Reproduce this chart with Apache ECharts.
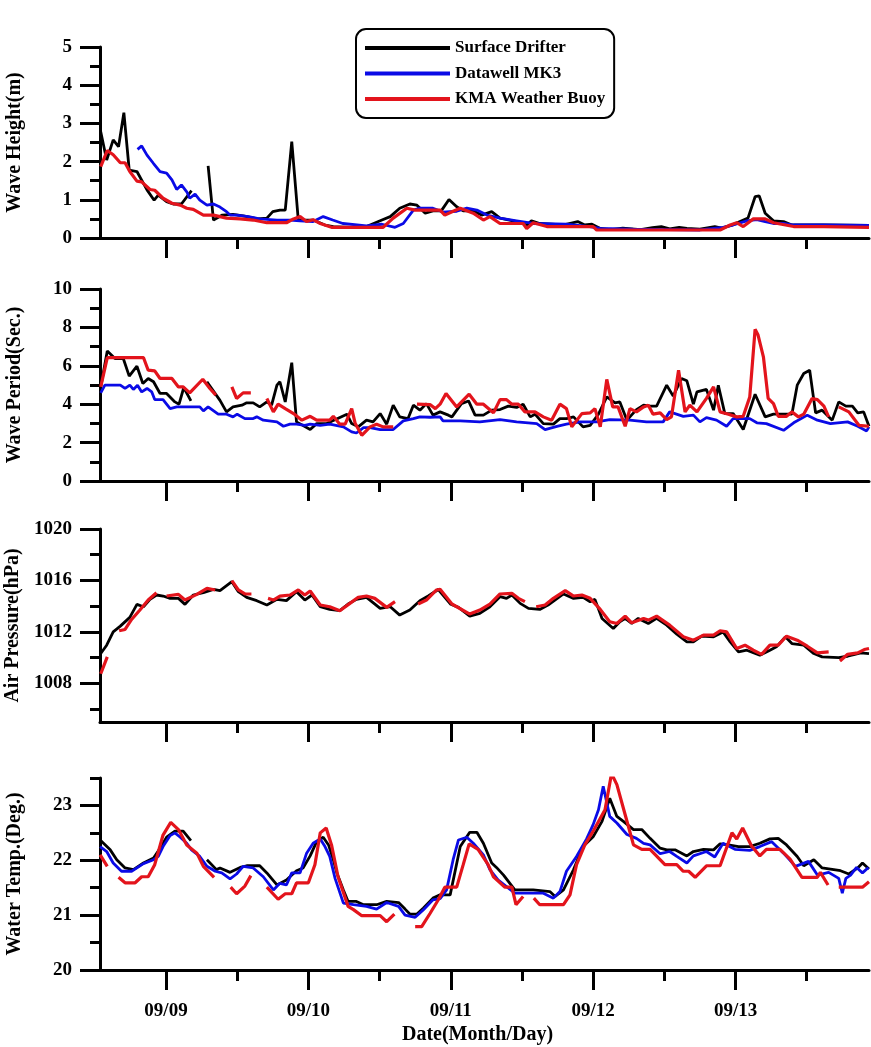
<!DOCTYPE html>
<html><head><meta charset="utf-8">
<script src="https://cdn.jsdelivr.net/npm/echarts@6/dist/echarts.min.js"></script>
<style>html,body{margin:0;padding:0;background:#fff}#c{width:871px;height:1047px}</style>
</head><body><div id="c"></div><script>
// x values: hours since 2000-09-08 00:00
const hsDrifter = [[13.0,2.78],[14.0,2.04],[15.1,2.57],[16.0,2.39],[16.9,3.28],[17.8,1.78],[19.1,1.74],[20.8,1.26],[22.0,0.99],[22.7,1.12],[24.1,0.95],[25.2,0.89],[26.6,0.89],[28.3,1.24],[29.5,null],[31.1,1.89],[32.0,0.47],[33.5,0.6],[35.3,0.62],[37.0,0.58],[39.5,0.5],[41.0,0.52],[42.0,0.69],[43.2,0.73],[44.1,0.73],[45.2,2.52],[46.3,0.47],[48.8,0.47],[50.8,0.34],[52.2,0.3],[55.0,0.28],[57.8,0.3],[60.4,0.47],[61.8,0.56],[63.4,0.78],[65.1,0.89],[66.3,0.86],[67.7,0.65],[69.0,0.71],[70.4,0.71],[71.7,1.01],[73.0,0.82],[74.1,0.71],[75.8,0.71],[77.2,0.6],[78.9,0.69],[80.3,0.52],[83.1,0.43],[84.8,0.34],[85.6,0.45],[87.0,0.38],[90.9,0.34],[93.4,0.43],[94.6,0.34],[95.8,0.36],[97.2,0.25],[99.0,0.22],[101.0,0.26],[104.0,0.22],[106.0,0.27],[107.5,0.3],[108.9,0.24],[110.5,0.28],[111.8,0.25],[114.0,0.23],[116.5,0.3],[117.7,0.26],[119.6,0.35],[122.1,0.52],[123.3,1.08],[124.0,1.1],[125.0,0.65],[126.4,0.45],[128.1,0.43],[129.5,0.34],[134.8,0.34],[142.5,0.33]];
const hsMK3 = [[19.2,2.32],[19.9,2.41],[20.8,2.17],[21.9,1.95],[23.0,1.74],[24.1,1.7],[25.0,1.52],[25.8,1.27],[26.6,1.39],[27.5,1.21],[28.0,1.04],[28.9,1.15],[29.7,0.99],[30.9,0.86],[32.0,0.89],[33.1,0.81],[34.2,0.69],[34.8,0.6],[35.9,0.6],[37.9,0.56],[39.8,0.5],[42.7,0.47],[44.9,0.47],[46.6,0.45],[48.8,0.43],[50.5,0.56],[52.1,0.47],[53.8,0.38],[57.8,0.32],[60.4,0.36],[62.6,0.28],[64.0,0.38],[65.7,0.73],[66.8,0.78],[69.0,0.78],[70.7,0.68],[73.0,0.7],[74.7,0.78],[76.4,0.73],[78.1,0.6],[80.3,0.52],[83.1,0.45],[85.9,0.38],[91.5,0.36],[95.4,0.3],[97.2,0.25],[102.7,0.23],[108.4,0.22],[114.0,0.21],[117.9,0.28],[119.6,0.34],[121.9,0.45],[123.6,0.48],[125.0,0.43],[126.4,0.38],[128.1,0.38],[129.8,0.34],[134.9,0.34],[142.5,0.33]];
const hsKMA = [[13.0,1.87],[14.1,2.29],[15.1,2.18],[16.3,1.97],[17.1,1.97],[17.9,1.74],[19.1,1.49],[19.9,1.47],[21.3,1.27],[22.1,1.25],[23.5,1.04],[25.0,0.91],[26.4,0.86],[27.5,0.78],[28.6,0.75],[30.3,0.6],[32.0,0.6],[34.2,0.52],[36.5,0.5],[38.7,0.47],[41.0,0.4],[44.3,0.4],[45.5,0.5],[46.6,0.56],[47.7,0.43],[48.8,0.48],[50.0,0.38],[51.9,0.28],[60.6,0.28],[62.3,0.52],[64.6,0.78],[66.0,0.73],[70.2,0.73],[71.0,0.6],[72.4,0.7],[73.6,0.78],[75.8,0.65],[77.5,0.47],[78.6,0.56],[80.3,0.38],[84.2,0.38],[84.8,0.25],[85.9,0.4],[88.2,0.3],[96.0,0.3],[96.6,0.21],[117.4,0.21],[119.1,0.34],[120.2,0.4],[121.3,0.3],[123.0,0.5],[125.0,0.5],[126.4,0.4],[129.8,0.3],[134.9,0.3],[142.5,0.28]];

const tpDrifter = [[13.0,4.9],[14.1,6.77],[15.4,6.38],[16.8,6.38],[17.8,5.46],[19.1,5.98],[20.1,5.08],[21.0,5.34],[21.9,5.17],[23.0,4.56],[24.1,4.56],[25.5,4.12],[26.2,4.0],[27.0,4.87],[28.2,4.17],[29.5,null],[30.9,5.17],[33.1,4.2],[34.2,3.6],[35.3,3.86],[36.8,3.95],[37.6,4.07],[38.7,4.07],[39.8,3.86],[41.0,4.12],[41.8,3.95],[42.7,4.99],[43.2,5.17],[44.1,4.12],[45.2,6.16],[46.0,3.08],[48.3,2.68],[49.4,2.99],[51.1,2.99],[54.5,3.48],[55.3,2.99],[56.4,2.82],[57.8,3.17],[58.9,3.08],[60.1,3.51],[61.2,2.96],[62.3,3.95],[63.4,3.34],[64.8,3.25],[65.7,3.95],[66.8,3.69],[67.9,4.03],[69.0,3.43],[70.2,3.6],[71.6,3.43],[72.2,3.34],[73.8,4.03],[75.0,4.17],[76.1,3.43],[77.5,3.43],[78.9,3.69],[80.3,3.72],[81.7,3.9],[83.1,3.83],[84.2,4.0],[85.4,3.34],[86.2,3.48],[87.6,2.99],[89.3,2.96],[90.4,3.25],[91.5,3.25],[92.7,3.34],[94.3,2.82],[95.5,2.9],[96.9,3.48],[98.3,4.38],[99.7,4.07],[100.5,4.12],[101.7,3.17],[103.3,3.72],[104.5,3.95],[105.6,3.9],[106.7,3.9],[108.4,4.99],[109.5,4.42],[110.9,5.34],[111.8,5.22],[112.9,4.0],[113.5,4.64],[115.1,4.77],[116.3,3.69],[117.1,4.99],[118.2,3.51],[119.6,3.51],[121.3,2.68],[123.3,4.52],[125.0,3.34],[126.4,3.48],[129.5,3.48],[130.4,4.99],[131.5,5.6],[132.5,5.77],[133.5,3.55],[134.6,3.69],[136.3,3.17],[137.4,4.12],[138.6,3.9],[139.7,3.9],[140.6,3.55],[141.6,3.6],[142.5,2.85]];
const tpMK3 = [[13.0,4.59],[13.7,4.99],[16.3,4.99],[17.1,4.82],[17.9,4.99],[18.5,4.77],[19.2,4.99],[19.9,4.64],[20.8,4.82],[21.6,4.64],[22.1,4.24],[23.5,4.24],[24.7,3.77],[25.8,3.86],[26.6,3.86],[29.7,3.86],[30.3,3.65],[31.1,3.86],[32.8,3.48],[34.2,3.48],[35.3,3.34],[36.0,3.48],[37.3,3.25],[38.7,3.25],[39.3,3.34],[40.4,3.17],[42.7,3.08],[43.8,2.85],[44.9,2.96],[46.0,2.96],[47.4,2.9],[48.3,2.96],[50.0,2.9],[51.6,2.96],[53.9,2.82],[55.3,2.56],[56.1,2.5],[57.3,2.78],[58.4,2.78],[60.1,2.68],[62.3,2.68],[64.0,3.13],[65.7,3.25],[66.8,3.34],[68.5,3.32],[70.2,3.34],[70.7,3.13],[73.6,3.13],[76.9,3.08],[80.3,3.2],[83.1,3.08],[86.5,2.99],[87.9,2.68],[89.9,2.85],[91.5,2.96],[93.8,3.08],[96.6,3.08],[98.8,3.2],[102.2,3.17],[105.0,3.08],[107.8,3.08],[108.9,3.6],[111.2,3.37],[112.9,3.43],[114.0,3.08],[115.1,3.3],[116.8,3.17],[118.5,2.85],[119.6,3.25],[122.4,3.25],[123.6,3.03],[125.2,2.99],[128.1,2.64],[129.8,3.03],[132.1,3.43],[133.8,3.17],[136.0,2.99],[138.9,3.08],[140.6,2.85],[142.1,2.61],[142.5,2.82]];
const tpKMA = [[13.0,4.9],[14.1,6.43],[20.2,6.43],[21.0,5.77],[22.1,5.74],[23.0,5.34],[25.0,5.34],[26.1,4.9],[26.9,4.9],[28.0,4.59],[30.2,5.3],[31.4,4.82],[32.4,4.47],[33.5,null],[35.1,4.9],[35.9,4.3],[37.0,4.59],[38.3,4.59],[40.0,null],[41.0,4.3],[42.1,3.6],[42.9,4.0],[44.1,3.77],[45.5,3.51],[46.9,3.17],[48.3,3.37],[49.4,3.17],[51.6,3.17],[52.2,3.37],[53.3,2.96],[54.2,2.96],[55.3,3.77],[55.9,2.99],[57.0,2.38],[58.4,2.82],[59.5,2.96],[60.6,2.82],[62.3,2.82],[64.0,null],[66.3,4.0],[68.5,3.98],[69.4,3.77],[70.2,4.0],[71.2,4.56],[73.0,3.86],[75.1,4.52],[76.4,4.0],[77.5,4.0],[79.2,3.55],[80.3,4.24],[81.4,4.24],[82.3,4.0],[83.4,4.0],[84.5,3.6],[86.2,3.6],[87.6,3.34],[89.0,3.17],[90.4,4.0],[91.5,3.77],[92.4,2.82],[94.1,3.51],[95.5,3.55],[96.3,3.77],[97.2,2.82],[98.3,5.29],[99.3,3.86],[100.2,3.86],[101.4,2.85],[102.2,3.77],[103.3,3.6],[104.5,3.86],[105.3,3.95],[106.1,3.48],[107.3,3.55],[108.4,3.2],[109.2,3.34],[110.4,5.77],[111.5,3.6],[112.3,3.95],[113.5,3.6],[115.1,4.3],[116.3,4.9],[117.4,3.6],[118.8,3.48],[120.2,3.34],[121.3,3.37],[122.4,4.38],[123.3,7.9],[123.8,7.6],[124.7,6.47],[125.5,4.3],[126.4,4.03],[127.2,3.37],[128.6,3.37],[129.5,3.6],[130.6,3.34],[131.5,3.48],[132.9,4.3],[133.8,4.24],[134.9,3.9],[135.7,3.34],[136.5,null],[137.4,3.86],[139.1,3.6],[140.8,2.9],[142.5,2.85]];

const apDrifter = [[13.0,1010.32],[14.0,1010.97],[15.1,1012.0],[16.3,1012.45],[17.9,1013.13],[19.1,1014.14],[20.2,1013.96],[21.3,1014.53],[22.4,1014.87],[23.5,1014.79],[24.7,1014.61],[26.1,1014.61],[27.2,1014.14],[28.6,1014.87],[30.3,1015.05],[32.0,1015.31],[33.1,1015.21],[35.1,1015.91],[36.2,1015.13],[37.6,1014.69],[39.3,1014.43],[41.0,1014.09],[42.7,1014.53],[44.3,1014.43],[46.0,1015.13],[47.4,1014.48],[48.6,1014.87],[50.0,1013.96],[51.6,1013.75],[53.3,1013.65],[54.7,1014.17],[56.1,1014.53],[57.8,1014.69],[60.1,1013.83],[61.8,1013.96],[63.4,1013.31],[65.1,1013.7],[66.8,1014.43],[68.2,1014.79],[69.9,1015.3],[72.0,1014.15],[73.3,1013.91],[75.2,1013.23],[76.9,1013.44],[78.6,1013.96],[80.3,1014.74],[81.4,1014.61],[82.3,1014.87],[83.7,1014.22],[85.1,1013.83],[87.0,1013.75],[88.4,1014.09],[91.0,1014.95],[92.7,1014.61],[94.3,1014.69],[95.5,1014.35],[96.3,1014.53],[97.5,1013.05],[99.4,1012.27],[100.5,1012.79],[101.4,1013.05],[102.5,1012.66],[103.6,1013.05],[105.3,1012.66],[106.7,1013.05],[108.4,1012.53],[110.1,1011.83],[111.8,1011.23],[112.9,1011.23],[114.3,1011.67],[116.3,1011.62],[117.9,1012.0],[119.1,1011.23],[120.5,1010.45],[121.9,1010.58],[124.1,1010.19],[125.8,1010.58],[126.9,1010.84],[128.4,1011.62],[129.5,1011.1],[131.5,1010.97],[133.2,1010.32],[134.6,1010.06],[137.4,1010.0],[138.9,1010.11],[141.1,1010.37],[142.5,1010.32]];
const apKMA = [[13.0,1008.75],[14.1,1010.06],[15.0,null],[16.1,1012.09],[17.1,1012.19],[18.2,1012.97],[19.6,1013.7],[21.0,1014.48],[22.4,1015.05],[23.2,null],[24.1,1014.79],[26.1,1014.92],[27.2,1014.48],[29.2,1014.92],[30.9,1015.39],[32.3,1015.26],[33.5,null],[35.1,1015.99],[36.2,1015.26],[37.3,1014.95],[38.4,1014.95],[40.0,null],[41.2,1014.61],[42.1,1014.48],[43.2,1014.79],[44.9,1014.87],[46.3,1015.26],[47.4,1014.87],[48.3,1015.18],[50.0,1014.09],[51.6,1013.96],[53.3,1013.65],[55.0,1014.22],[56.4,1014.69],[57.8,1014.79],[59.2,1014.61],[61.2,1013.91],[62.6,1014.35],[64.5,null],[66.5,1014.17],[67.9,1014.48],[69.6,1015.26],[70.2,1015.31],[72.2,1014.17],[75.2,1013.39],[76.9,1013.7],[78.6,1014.17],[80.3,1014.95],[82.3,1015.0],[83.4,1014.61],[84.5,1014.35],[85.3,null],[86.4,1013.96],[87.9,1014.09],[89.3,1014.61],[91.3,1015.21],[92.7,1014.79],[94.1,1014.87],[95.5,1014.61],[97.2,1013.75],[98.8,1012.79],[100.0,1012.66],[101.4,1013.23],[102.5,1012.71],[104.5,1013.05],[105.3,1012.92],[106.7,1013.23],[108.9,1012.53],[111.2,1011.62],[112.9,1011.36],[114.6,1011.75],[116.3,1011.75],[117.4,1012.09],[118.5,1012.0],[120.2,1010.71],[121.6,1010.97],[123.0,1010.58],[124.4,1010.26],[125.8,1010.97],[127.2,1010.97],[128.6,1011.67],[130.4,1011.36],[132.1,1010.89],[133.8,1010.37],[135.7,1010.45],[136.6,null],[137.6,1009.74],[138.9,1010.26],[140.6,1010.37],[141.7,1010.63],[142.5,1010.71]];

const wtDrifter = [[12.9,22.37],[14.6,22.19],[15.7,22.01],[17.1,21.86],[18.5,21.83],[20.2,21.95],[21.9,22.04],[23.0,22.22],[24.1,22.42],[25.5,22.53],[26.9,22.53],[28.2,22.36],[29.5,null],[30.9,22.01],[32.5,21.83],[33.1,21.86],[34.8,21.78],[36.5,21.87],[37.6,21.9],[39.8,21.9],[41.0,21.77],[42.7,21.55],[44.3,21.64],[46.0,21.81],[47.1,21.86],[48.3,22.08],[49.4,22.34],[50.5,22.42],[51.4,22.28],[52.2,22.01],[52.8,21.77],[53.9,21.46],[54.7,21.25],[56.1,21.25],[57.3,21.19],[59.5,21.19],[61.2,21.25],[63.2,21.23],[64.3,21.11],[65.1,21.02],[66.3,21.02],[67.4,21.13],[69.0,21.31],[70.2,21.37],[71.9,21.37],[73.6,22.25],[75.2,22.51],[76.4,22.51],[77.5,22.31],[78.9,21.95],[79.7,21.87],[80.9,21.73],[82.8,21.46],[84.0,21.46],[85.9,21.46],[88.7,21.43],[89.6,21.34],[91.0,21.46],[92.7,21.83],[94.3,22.25],[96.0,22.43],[97.5,22.71],[98.8,23.13],[100.0,22.8],[101.1,22.71],[102.8,22.56],[104.2,22.56],[105.6,22.4],[107.3,22.22],[108.4,22.19],[109.8,22.19],[111.8,22.08],[112.9,22.16],[114.6,22.2],[116.3,22.19],[117.4,22.3],[118.8,22.28],[120.5,22.25],[122.4,22.25],[124.1,22.31],[125.8,22.39],[127.2,22.4],[128.6,22.28],[130.4,22.07],[131.5,21.9],[133.2,22.01],[134.6,21.86],[136.0,21.84],[137.7,21.81],[139.1,21.75],[140.6,21.86],[141.4,21.95],[142.5,21.84]];
const wtMK3 = [[12.9,22.25],[14.0,22.16],[15.1,21.95],[16.5,21.8],[18.2,21.8],[20.2,21.94],[21.9,22.01],[22.7,22.07],[23.5,22.25],[24.7,22.45],[25.5,22.5],[26.4,22.42],[27.5,22.31],[28.3,22.19],[29.7,22.07],[30.9,21.89],[32.3,21.8],[33.4,21.77],[34.8,21.66],[35.9,21.75],[37.0,21.89],[38.7,21.86],[40.4,21.7],[42.1,21.46],[43.2,21.58],[44.3,21.55],[45.2,21.77],[46.6,21.77],[47.7,22.13],[48.8,22.31],[50.0,22.39],[50.8,22.25],[51.6,22.07],[52.5,21.67],[53.9,21.22],[55.6,21.19],[57.8,21.16],[59.5,21.11],[61.2,21.23],[63.2,21.16],[64.3,21.0],[66.0,20.96],[67.4,21.1],[69.0,21.28],[70.2,21.3],[71.3,21.46],[72.4,22.01],[73.3,22.37],[74.7,22.42],[75.8,22.31],[77.5,22.1],[78.6,21.83],[80.0,21.64],[81.4,21.52],[82.8,21.4],[84.8,21.4],[87.6,21.4],[89.3,21.31],[90.4,21.43],[91.5,21.8],[93.2,22.07],[94.9,22.39],[96.0,22.65],[96.9,22.92],[97.7,23.35],[98.8,22.8],[100.0,22.68],[101.7,22.47],[103.3,22.4],[104.5,22.31],[105.6,22.28],[107.3,22.12],[108.9,22.16],[110.1,22.07],[111.8,21.95],[112.9,22.08],[115.1,22.16],[116.5,22.06],[117.9,22.31],[119.9,22.2],[122.4,22.18],[124.1,22.25],[126.1,22.34],[128.1,22.13],[130.1,21.89],[132.3,21.98],[133.8,21.73],[135.7,21.78],[137.4,21.67],[138.0,21.4],[138.6,21.67],[139.4,21.73],[140.4,21.87],[141.4,21.77],[142.4,21.87]];
const wtKMA = [[12.9,22.1],[14.1,21.89],[15.0,null],[16.0,21.69],[17.1,21.59],[18.8,21.59],[19.9,21.7],[21.0,21.7],[22.1,21.92],[23.5,22.46],[24.8,22.69],[26.1,22.56],[27.5,22.28],[29.2,22.13],[30.3,21.89],[32.1,21.69],[33.5,null],[34.9,21.51],[35.9,21.39],[37.3,21.53],[38.3,21.72],[40.0,null],[41.0,21.51],[42.9,21.29],[44.1,21.39],[45.2,21.39],[46.0,21.59],[48.0,21.59],[49.1,21.92],[50.0,22.5],[51.0,22.59],[51.9,22.28],[53.0,21.7],[54.7,21.16],[55.6,21.1],[57.0,20.99],[60.1,20.99],[61.2,20.88],[62.5,21.02],[64.0,null],[66.0,20.79],[67.1,20.79],[68.5,21.03],[69.9,21.28],[71.0,21.51],[73.0,21.51],[74.1,21.92],[75.1,22.3],[76.6,22.2],[78.3,21.92],[79.2,21.7],[81.1,21.51],[82.3,21.51],[83.0,21.19],[84.2,21.34],[85.0,null],[86.0,21.31],[87.0,21.19],[91.0,21.19],[92.1,21.37],[93.2,21.92],[94.6,22.28],[96.0,22.53],[98.0,22.92],[99.1,23.58],[100.0,23.38],[101.4,22.83],[102.8,22.28],[104.2,22.2],[105.6,22.2],[108.1,21.92],[110.1,21.92],[111.2,21.8],[112.1,21.8],[113.2,21.69],[115.1,21.9],[117.4,21.9],[119.4,22.5],[120.2,22.39],[121.2,22.59],[122.7,22.26],[124.1,22.08],[125.2,22.2],[127.5,22.2],[129.2,22.02],[131.2,21.69],[133.8,21.69],[134.3,21.78],[135.6,21.55],[136.5,null],[137.4,21.51],[141.4,21.51],[142.5,21.61]];

const dayTicks = [24, 48, 72, 96, 120];
const halfDayTicks = [36, 60, 84, 108, 132];
const dayLabels = ['09/09', '09/10', '09/11', '09/12', '09/13'];
const yMajor = [[0,1,2,3,4,5],[0,2,4,6,8,10],[1008,1012,1016,1020],[20,21,22,23]];
const yMinor = [[0.5,1.5,2.5,3.5,4.5],[1,3,5,7,9],[1006,1010,1014,1018],[20.5,21.5,22.5,23.5]];
const yRange = [[0,5],[0,10],[1005,1020],[20,23.5]];
const yNames = ['Wave Height(m)','Wave Period(Sec.)','Air Pressure(hPa)','Water Temp.(Deg.)'];
const seriesNames = ['Surface Drifter','Datawell MK3','KMA Weather Buoy'];
const panelData = [[hsDrifter,hsMK3,hsKMA],[tpDrifter,tpMK3,tpKMA],[apDrifter,null,apKMA],[wtDrifter,wtMK3,wtKMA]];

const FONT = "'Liberation Serif','Times New Roman',serif";
const colors = ['#000000','#0a0ae6','#e3141c'];
const widths = [2.8,2.8,3.2];
const XMIN = 12.875, XMAX = 142.5;
const grids = [
  {left:100, right:2, top:47, height:191, outerBoundsMode:'none', containLabel:false},
  {left:100, right:2, top:289, height:192, outerBoundsMode:'none', containLabel:false},
  {left:100, right:2, top:529, height:193, outerBoundsMode:'none', containLabel:false},
  {left:100, right:2, top:778, height:192, outerBoundsMode:'none', containLabel:false}
];
const xAxes = [], yAxes = [], series = [];
grids.forEach((g, i) => {
  const last = i === 3;
  xAxes.push({
    type:'value', gridIndex:i, min:XMIN, max:XMAX, position:'bottom',
    axisLine:{show:true, onZero:false, lineStyle:{color:'#000', width:3}},
    axisTick:{show:true, customValues:dayTicks, length:20, lineStyle:{color:'#000', width:3}},
    axisLabel:{show:last, customValues:dayTicks, margin:32, color:'#000', fontFamily:FONT, fontWeight:'bold', fontSize:19,
      formatter:v => dayLabels[dayTicks.indexOf(Math.round(v))] || ''},
    splitLine:{show:false},
    name: last ? 'Date(Month/Day)' : '', nameLocation:'middle', nameGap:55,
    nameTextStyle:{color:'#000', fontFamily:FONT, fontWeight:'bold', fontSize:20, padding:[0,14,0,0]}
  });
  yAxes.push({
    type:'value', gridIndex:i, min:yRange[i][0], max:yRange[i][1], position:'left',
    axisLine:{show:true, onZero:false, lineStyle:{color:'#000', width:3}},
    axisTick:{show:true, customValues:yMajor[i], length:20, lineStyle:{color:'#000', width:3}},
    axisLabel:{show:true, customValues:yMajor[i], margin:28, color:'#000', fontFamily:FONT, fontWeight:'bold', fontSize:19,
      formatter:v => String(v)},
    splitLine:{show:false},
    name:yNames[i], nameLocation:'middle', nameRotate:90, nameGap:75,
    nameTextStyle:{color:'#000', fontFamily:FONT, fontWeight:'bold', fontSize:20}
  });
});
grids.forEach((g, i) => {
  xAxes.push({
    type:'value', gridIndex:i, min:XMIN, max:XMAX, position:'bottom', offset:0,
    axisLine:{show:false}, axisLabel:{show:false}, splitLine:{show:false},
    axisTick:{show:true, customValues:halfDayTicks, length:11, lineStyle:{color:'#000', width:3}}
  });
  yAxes.push({
    type:'value', gridIndex:i, min:yRange[i][0], max:yRange[i][1], position:'left', offset:0,
    axisLine:{show:false}, axisLabel:{show:false}, splitLine:{show:false},
    axisTick:{show:true, customValues:yMinor[i], length:10, lineStyle:{color:'#000', width:3}}
  });
});
panelData.forEach((arr, i) => {
  arr.forEach((d, k) => {
    if (!d) return;
    series.push({
      type:'line', name:seriesNames[k], xAxisIndex:i, yAxisIndex:i, data:d,
      showSymbol:false, symbol:'none', connectNulls:false, z:2+k,
      itemStyle:{color:colors[k]},
      lineStyle:{color:colors[k], width:widths[k]}
    });
  });
});
const chart = echarts.init(document.getElementById('c'), null, {renderer:'canvas'});
chart.setOption({
  animation:false,
  backgroundColor:'#fff',
  grid:grids,
  xAxis:xAxes,
  yAxis:yAxes,
  legend:{
    data:seriesNames, orient:'vertical', left:356, top:29,
    padding:[9,9,9,9], itemGap:5.5, itemWidth:85, itemHeight:4, itemTextGap:7,
    icon:'rect', borderColor:'#000', borderWidth:2, borderRadius:10,
    textStyle:{color:'#000', fontFamily:FONT, fontWeight:'bold', fontSize:17, lineHeight:20}
  },
  series:series
});
</script></body></html>
